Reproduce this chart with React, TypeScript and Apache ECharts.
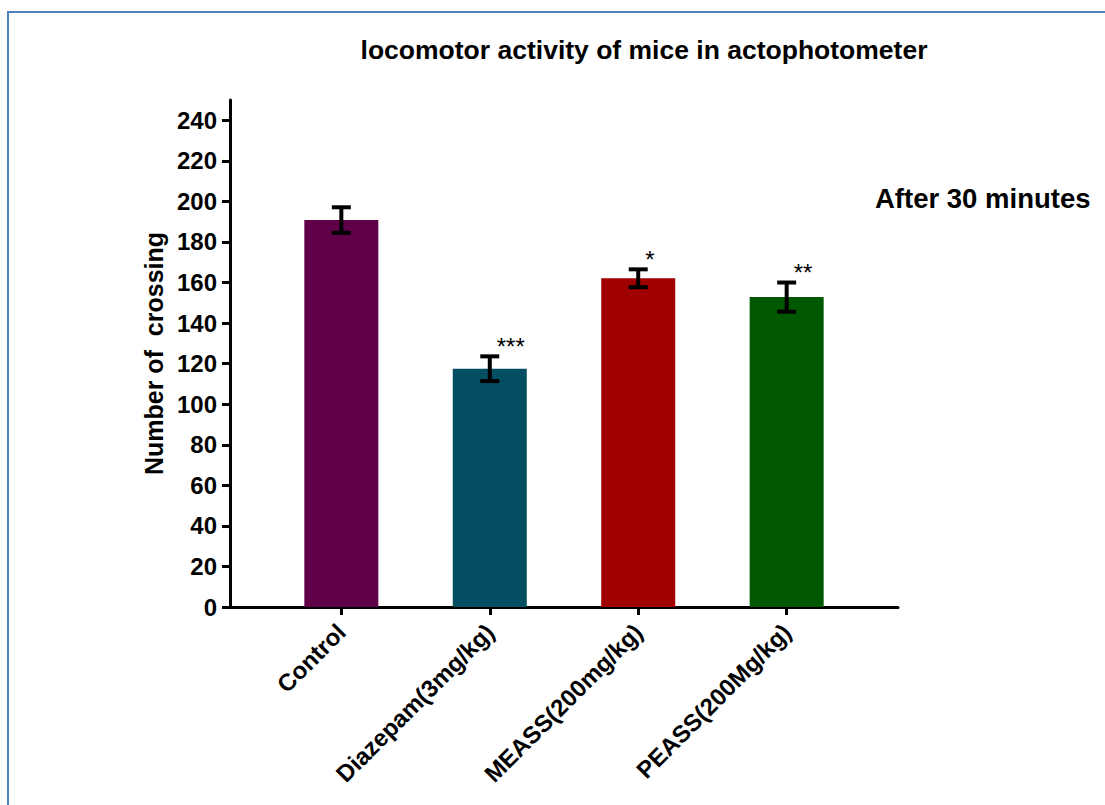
import React, { useEffect, useRef } from "react";
import * as echarts from "echarts";

const categories = ["Control", "Diazepam(3mg/kg)", "MEASS(200mg/kg)", "PEASS(200Mg/kg)"];
const means = [190.8, 117.5, 162.1, 152.8];
const errors = [6.3, 6.1, 4.4, 7.2];
const stars = ["", "***", "*", "**"];
const barColors = ["#5f0049", "#034f61", "#a00000", "#005800"];
const yTicks = [0, 20, 40, 60, 80, 100, 120, 140, 160, 180, 200, 220, 240];
const xTicks = [0, 1, 2, 3];

const FONT = 'Arial, "Liberation Sans", Helvetica, sans-serif';

export default function App() {
  const ref = useRef<HTMLDivElement>(null);
  useEffect(() => {
    if (!ref.current) return;
    const chart = echarts.init(ref.current, null, { renderer: "svg" });
    chart.setOption({
      animation: false,
      backgroundColor: "#ffffff",
      textStyle: { fontFamily: FONT },
      grid: { left: 230, top: 100, right: 207, bottom: 198, containLabel: false },
      graphic: [
        {
          type: "rect",
          shape: { x: 8, y: 12, width: 1200, height: 900 },
          style: { fill: "none", stroke: "#4f81bd", lineWidth: 2 },
          silent: true,
        },
        {
          type: "text",
          x: 644,
          y: 50,
          style: {
            text: "locomotor activity of mice in actophotometer",
            font: `bold 26.5px ${FONT}`,
            fill: "#000",
            align: "center",
            verticalAlign: "middle",
          },
        },
        {
          type: "text",
          x: 875,
          y: 198,
          style: {
            text: "After 30 minutes",
            font: `bold 27.5px ${FONT}`,
            fill: "#000",
            align: "left",
            verticalAlign: "middle",
          },
        },
      ],
      xAxis: {
        type: "value",
        min: -0.75,
        max: 3.75,
        splitLine: { show: false },
        axisLine: { show: true, onZero: false, lineStyle: { color: "#000", width: 3 } },
        axisTick: { show: true, customValues: xTicks, length: 8, lineStyle: { color: "#000", width: 3 } },
        axisLabel: {
          customValues: xTicks,
          formatter: (v: number) => categories[Math.round(v)] ?? "",
          rotate: 45,
          margin: 21,
          color: "#000",
          fontWeight: "bold",
          fontSize: 24,
          fontFamily: FONT,
        },
      },
      yAxis: {
        type: "value",
        min: 0,
        max: 250,
        splitLine: { show: false },
        name: "Number of  crossing",
        nameLocation: "middle",
        nameGap: 53,
        nameTextStyle: { color: "#000", fontWeight: "bold", fontSize: 25, fontFamily: FONT },
        axisLine: { show: true, onZero: false, lineStyle: { color: "#000", width: 3 } },
        axisTick: { show: true, customValues: yTicks, length: 8, lineStyle: { color: "#000", width: 3 } },
        axisLabel: {
          customValues: yTicks,
          margin: 13,
          color: "#000",
          fontWeight: "bold",
          fontSize: 24,
          fontFamily: FONT,
        },
      },
      series: [
        {
          type: "bar",
          barWidth: 74,
          data: means.map((m, i) => ({ value: [i, m], itemStyle: { color: barColors[i] } })),
          z: 2,
        },
        {
          type: "custom",
          z: 5,
          data: means.map((m, i) => [i, m, errors[i]]),
          renderItem: (params: any, api: any) => {
            const x = api.value(0);
            const m = api.value(1);
            const e = api.value(2);
            const top = api.coord([x, m + e]);
            const bot = api.coord([x, m - e]);
            const hw = 9.5;
            const s = stars[params.dataIndex];
            const children: any[] = [
              { type: "line", shape: { x1: top[0], y1: top[1], x2: bot[0], y2: bot[1] }, style: { stroke: "#000", lineWidth: 4 } },
              { type: "line", shape: { x1: top[0] - hw, y1: top[1], x2: top[0] + hw, y2: top[1] }, style: { stroke: "#000", lineWidth: 4 } },
              { type: "line", shape: { x1: bot[0] - hw, y1: bot[1], x2: bot[0] + hw, y2: bot[1] }, style: { stroke: "#000", lineWidth: 4 } },
            ];
            if (s) {
              children.push({
                type: "text",
                x: top[0] + 7,
                y: top[1] - 10,
                style: {
                  text: s,
                  font: `normal 24px ${FONT}`,
                  fill: "#000",
                  align: "left",
                  verticalAlign: "middle",
                },
              });
            }
            return { type: "group", children };
          },
        },
      ],
    });
    return () => chart.dispose();
  }, []);
  return (
    <div
      ref={ref}
      style={{ position: "fixed", left: 0, top: 0, width: 1105, height: 805, background: "#fff" }}
    />
  );
}
